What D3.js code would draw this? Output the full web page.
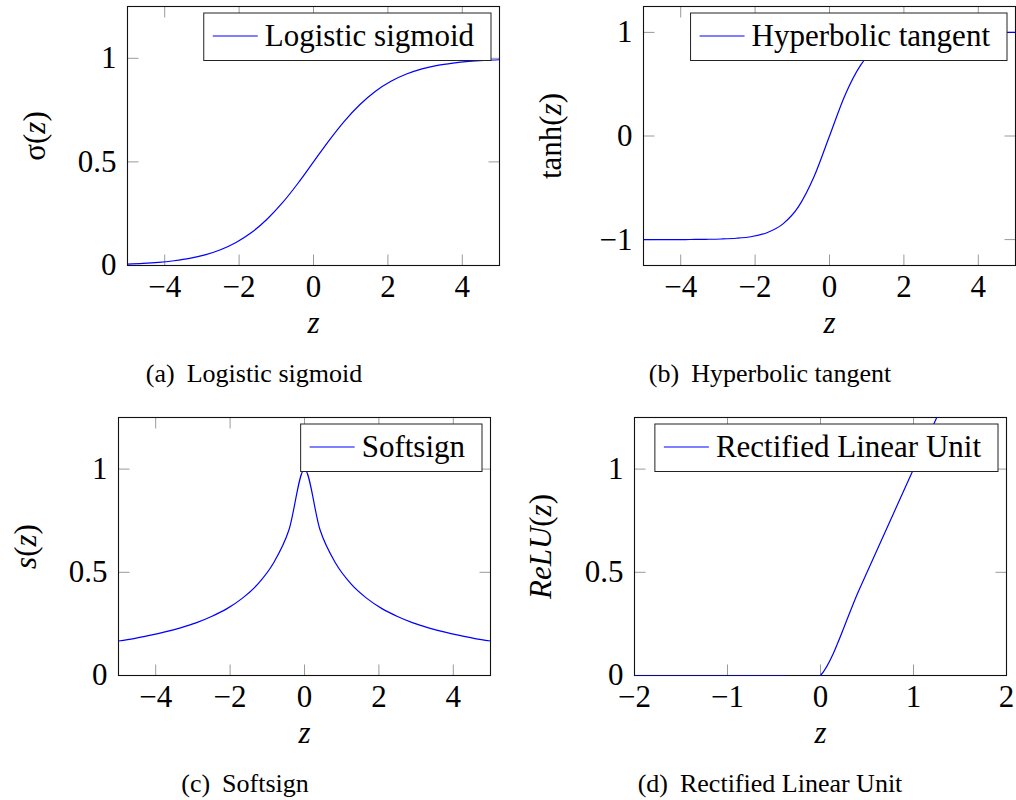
<!DOCTYPE html>
<html>
<head>
<meta charset="utf-8">
<script src="https://cdn.jsdelivr.net/npm/d3@7"></script>
<style>
  body { margin: 0; background: #fff; }
</style>
</head>
<body>
<svg id="chart" width="1016" height="800"></svg>
<script>
// z positions where the curves were sampled (25 samples over [-5, 5])
const zSamples = [-5, -4.583, -4.167, -3.75, -3.333, -2.917, -2.5, -2.083, -1.667, -1.25, -0.833, -0.417,
  0, 0.417, 0.833, 1.25, 1.667, 2.083, 2.5, 2.917, 3.333, 3.75, 4.167, 4.583, 5];

// values at those z positions
const sigmoidValues = [0.007, 0.010, 0.015, 0.023, 0.034, 0.051, 0.076, 0.111, 0.159, 0.223, 0.303, 0.397,
  0.5, 0.603, 0.697, 0.777, 0.841, 0.889, 0.924, 0.949, 0.966, 0.977, 0.985, 0.990, 0.993];
const tanhValues = [-1.0, -1.0, -1.0, -0.999, -0.997, -0.994, -0.987, -0.970, -0.931, -0.848, -0.682, -0.394,
  0, 0.394, 0.682, 0.848, 0.931, 0.970, 0.987, 0.994, 0.997, 0.999, 1.0, 1.0, 1.0];
const softsignValues = [0.167, 0.179, 0.194, 0.211, 0.231, 0.255, 0.286, 0.324, 0.375, 0.444, 0.545, 0.706,
  1.0, 0.706, 0.545, 0.444, 0.375, 0.324, 0.286, 0.255, 0.231, 0.211, 0.194, 0.179, 0.167];
const reluValues = [0, 0, 0, 0, 0, 0, 0, 0, 0, 0, 0, 0,
  0, 0.417, 0.833, 1.25, 1.667, 2.083, 2.5, 2.917, 3.333, 3.75, 4.167, 4.583, 5];

// tick values
const zTicks = [-4, -2, 0, 2, 4];
const reluZTicks = [-2, -1, 0, 1, 2];
const unitTicks = [0, 0.5, 1];
const tanhTicks = [-1, 0, 1];

// legend entries and captions
const legendLabels = ["Logistic sigmoid", "Hyperbolic tangent", "Softsign", "Rectified Linear Unit"];
const captionLetters = ["(a)", "(b)", "(c)", "(d)"];

const serif = "'Liberation Serif', 'DejaVu Serif', serif";

const svg = d3.select("#chart");
svg.append("rect").attr("width", 1016).attr("height", 800).attr("fill", "#fff");

const panels = [
  {values: sigmoidValues, xDomain: [-5, 5], yDomain: [0, 1.25], xTicks: zTicks, yTicks: unitTicks,
   left: 127.5, top: 6.5, height: 259, yLabelX: 44.5, captionX: 254, captionY: 382,
   yLabel: [["σ", false], ["(", false], ["z", true], [")", false]]},
  {values: tanhValues, xDomain: [-5, 5], yDomain: [-1.25, 1.25], xTicks: zTicks, yTicks: tanhTicks,
   left: 643.5, top: 6.5, height: 259, yLabelX: 561, captionX: 770, captionY: 382,
   yLabel: [["tanh(", false], ["z", true], [")", false]]},
  {values: softsignValues, xDomain: [-5, 5], yDomain: [0, 1.25], xTicks: zTicks, yTicks: unitTicks,
   left: 118.5, top: 417.5, height: 258, yLabelX: 36, captionX: 245, captionY: 792,
   yLabel: [["s", true], ["(", false], ["z", true], [")", false]]},
  {values: reluValues, xDomain: [-2, 2], yDomain: [0, 1.25], xTicks: reluZTicks, yTicks: unitTicks,
   left: 634.5, top: 417.5, height: 258, yLabelX: 551, captionX: 770, captionY: 792,
   yLabel: [["ReLU", true], ["(", false], ["z", true], [")", false]]}
];

const plotWidth = 372;
const fontSize = 31;
const tickColor = "#9a9a9a";

function styleAxis(sel) {
  sel.attr("font-family", serif).attr("font-size", fontSize);
  sel.select(".domain").remove();
  sel.selectAll(".tick line").attr("stroke", tickColor).attr("stroke-width", 1);
  sel.selectAll(".tick text").style("font-family", serif).style("font-size", fontSize + "px");
}

panels.forEach((p, i) => {
  const w = plotWidth, h = p.height;
  const g = svg.append("g").attr("transform", `translate(${p.left},${p.top})`);

  const x = d3.scaleLinear().domain(p.xDomain).range([0, w]);
  const y = d3.scaleLinear().domain(p.yDomain).range([h, 0]);
  const fmt = d3.format("");

  // ticks point inwards on all four sides, labels only bottom and left
  g.append("g").attr("transform", `translate(0,${h})`)
    .call(d3.axisBottom(x).tickValues(p.xTicks).tickFormat(fmt).tickSize(-11).tickPadding(9.5).offset(0))
    .call(styleAxis);
  g.append("g")
    .call(d3.axisTop(x).tickValues(p.xTicks).tickFormat("").tickSize(-11).offset(0))
    .call(styleAxis);
  g.append("g")
    .call(d3.axisLeft(y).tickValues(p.yTicks).tickFormat(fmt).tickSize(-11).tickPadding(11).offset(0))
    .call(styleAxis);
  g.append("g").attr("transform", `translate(${w},0)`)
    .call(d3.axisRight(y).tickValues(p.yTicks).tickFormat("").tickSize(-11).offset(0))
    .call(styleAxis);

  // frame
  g.append("rect")
    .attr("width", w).attr("height", h)
    .attr("fill", "none").attr("stroke", "#111").attr("stroke-width", 1.1);

  // curve, clipped to the plot area
  const clipId = "clip" + i;
  g.append("clipPath").attr("id", clipId)
    .append("rect").attr("width", w).attr("height", h);

  const line = d3.line()
    .x(d => x(d[0]))
    .y(d => y(d[1]))
    .curve(d3.curveCardinal);

  g.append("path")
    .datum(zSamples.map((z, k) => [z, p.values[k]]))
    .attr("clip-path", `url(#${clipId})`)
    .attr("d", line)
    .attr("fill", "none")
    .attr("stroke", "#0000ff")
    .attr("stroke-width", 1.2);

  // legend, top right
  const lg = g.append("g");
  const box = lg.append("rect");
  const label = lg.append("text")
    .style("font-family", serif)
    .style("font-size", fontSize + "px")
    .text(legendLabels[i]);
  const textW = label.node().getComputedTextLength();
  const boxW = 9 + 45 + 7 + textW + 17;
  const boxH = 47.5;
  const bx = w - 8.5 - boxW, by = 6.5;
  box.attr("x", bx).attr("y", by).attr("width", boxW).attr("height", boxH)
    .attr("fill", "#fff").attr("stroke", "#222").attr("stroke-width", 1);
  lg.append("line")
    .attr("x1", bx + 9).attr("x2", bx + 54)
    .attr("y1", by + 23).attr("y2", by + 23)
    .attr("stroke", "#0000ff").attr("stroke-width", 1.2);
  label.attr("x", bx + 61).attr("y", by + 32.5);

  // x axis label
  g.append("text")
    .attr("x", w / 2).attr("y", h + 67)
    .attr("text-anchor", "middle")
    .style("font-family", serif)
    .style("font-size", fontSize + "px")
    .style("font-style", "italic")
    .text("z");

  // y axis label, rotated
  const yl = svg.append("text")
    .attr("transform", `translate(${p.yLabelX},${p.top + h / 2}) rotate(-90)`)
    .attr("text-anchor", "middle")
    .style("font-family", serif)
    .style("font-size", fontSize + "px");
  p.yLabel.forEach(([t, it]) => {
    yl.append("tspan").style("font-style", it ? "italic" : "normal").text(t);
  });

  // sub-caption
  const cap = svg.append("text")
    .attr("x", p.captionX).attr("y", p.captionY)
    .attr("text-anchor", "middle")
    .style("font-family", serif)
    .style("font-size", "26px");
  cap.append("tspan").text(captionLetters[i]);
  cap.append("tspan").attr("dx", 12).text(legendLabels[i]);
});
</script>
</body>
</html>
